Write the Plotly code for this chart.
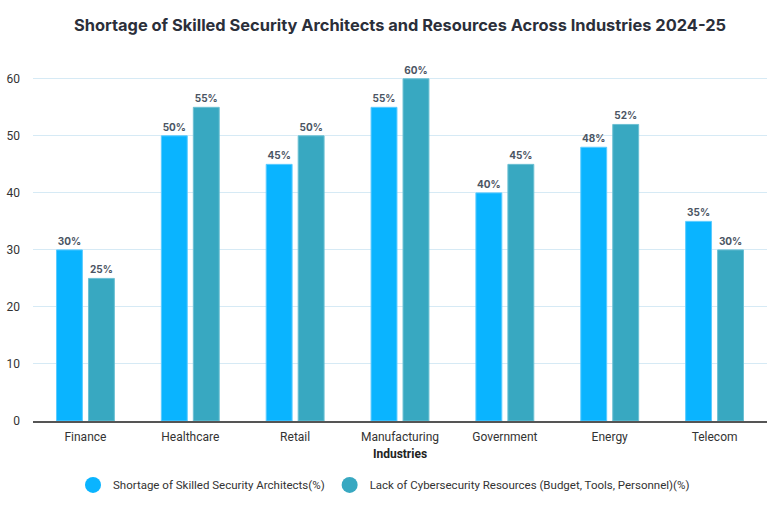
import plotly.graph_objects as go

industries = ["Finance", "Healthcare", "Retail", "Manufacturing", "Government", "Energy", "Telecom"]
shortage = [30, 50, 45, 55, 40, 48, 35]
lack_resources = [25, 55, 50, 60, 45, 52, 30]
y_ticks = [0, 10, 20, 30, 40, 50, 60]

name1 = "Shortage of Skilled Security Architects(%)"
name2 = "Lack of Cybersecurity Resources (Budget, Tools, Personnel)(%)"
c1 = "#0AB4FF"
c2 = "#38A8C1"
label_font = dict(family="Inter", size=10, color="#4B5563", weight="bold")

fig = go.Figure()
fig.add_trace(go.Bar(
    x=industries, y=shortage, name=name1, showlegend=False,
    marker=dict(color=c1, line=dict(color="#5CCBFF", width=1)),
    text=[f"{v}%" for v in shortage], textposition="outside",
    textfont=label_font, cliponaxis=False,
))
fig.add_trace(go.Bar(
    x=industries, y=lack_resources, name=name2, showlegend=False,
    marker=dict(color=c2, line=dict(color="#6CC0D3", width=1)),
    text=[f"{v}%" for v in lack_resources], textposition="outside",
    textfont=label_font, cliponaxis=False,
))
# legend entries with circular markers
for nm, col in [(name1, c1), (name2, c2)]:
    fig.add_trace(go.Scatter(
        x=[None], y=[None], mode="markers", name=nm,
        marker=dict(symbol="circle", size=17, color=col),
    ))

fig.update_layout(
    width=768, height=505,
    paper_bgcolor="white", plot_bgcolor="white",
    font=dict(family="Roboto", color="#333333"),
    title=dict(text="<b>Shortage of Skilled Security Architects and Resources Across Industries 2024-25</b>",
               x=0.5, xanchor="center", xref="paper", y=0.95, yanchor="middle",
               font=dict(family="Inter", size=16.4, color="#2B2F3A")),
    margin=dict(l=33, r=1, t=56, b=84, autoexpand=False),
    barmode="group", bargap=0.39, bargroupgap=0.19,
    showlegend=True,
    legend=dict(orientation="h", x=0.5, xanchor="center", y=-0.175, yanchor="middle",
                xref="container",
                font=dict(family="Roboto", size=11.5, color="#333333"), itemsizing="trace",
                itemwidth=30, tracegroupgap=0),
    xaxis=dict(
        title=dict(text="<b>Industries</b>", font=dict(family="Roboto", size=12, color="#222222"), standoff=6),
        tickfont=dict(family="Roboto", size=12, color="#333333"),
        showline=True, linecolor="#555555", linewidth=2,
        ticks="outside", ticklen=4, tickcolor="white", showgrid=False, automargin=False,
    ),
    yaxis=dict(
        range=[0, 64], tickvals=y_ticks,
        tickfont=dict(family="Roboto", size=12, color="#333333"),
        showgrid=True, gridcolor="#D6EAF5", gridwidth=1,
        zeroline=False, ticks="", ticklabelstandoff=12, automargin=False,
    ),
)

fig.write_html("out.html", config={"displayModeBar": False},
               post_script="document.body.style.margin='0px';")
